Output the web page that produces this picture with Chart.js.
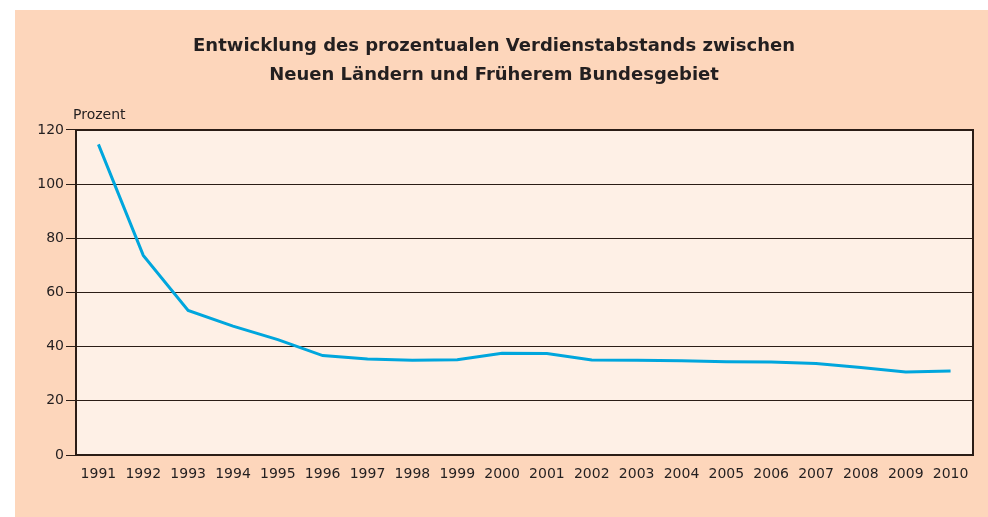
<!DOCTYPE html>
<html>
<head>
<meta charset="utf-8">
<script src="https://cdn.jsdelivr.net/npm/chart.js@4"></script>
<style>
  html, body { margin: 0; padding: 0; background: #ffffff; }
  #wrap { position: absolute; left: 15px; top: 10px; width: 973px; height: 507px; background: #fdd6bb; }
  canvas { display: block; }
</style>
</head>
<body>
<div id="wrap"><canvas id="c" width="973" height="507"></canvas></div>
<script>
const titleLines = ["Entwicklung des prozentualen Verdienstabstands zwischen", "Neuen Ländern und Früherem Bundesgebiet"];
const axisUnit = "Prozent";
const years = ["1991","1992","1993","1994","1995","1996","1997","1998","1999","2000","2001","2002","2003","2004","2005","2006","2007","2008","2009","2010"];
const gapPercent = [114.7, 73.7, 53.4, 47.6, 42.6, 36.7, 35.4, 35.0, 35.2, 37.6, 37.5, 35.1, 35.0, 34.8, 34.4, 34.3, 33.8, 32.3, 30.6, 31.0];
const yTicks = [0, 20, 40, 60, 80, 100, 120];

const ink = '#231f20';
const font = '"DejaVu Sans", Arial, sans-serif';

const framePlugin = {
  id: 'frame',
  beforeDraw(chart) {
    const {ctx, chartArea: a} = chart;
    ctx.save();
    ctx.fillStyle = '#fef0e6';
    ctx.fillRect(a.left, a.top, a.right - a.left, a.bottom - a.top);
    ctx.restore();
  },
  afterDraw(chart) {
    const {ctx, chartArea: a} = chart;
    ctx.save();
    ctx.strokeStyle = '#2b1d16';
    ctx.lineWidth = 2;
    ctx.beginPath();
    ctx.moveTo(a.left, a.top);
    ctx.lineTo(a.right, a.top);
    ctx.lineTo(a.right, a.bottom);
    ctx.stroke();
    ctx.fillStyle = ink;
    ctx.font = '14px ' + font;
    ctx.textAlign = 'left';
    ctx.textBaseline = 'middle';
    ctx.fillText(axisUnit, a.left - 3, a.top - 15);
    ctx.restore();
  }
};

new Chart(document.getElementById('c'), {
  type: 'line',
  data: {
    labels: years,
    datasets: [{
      data: gapPercent,
      borderColor: '#00a6dd',
      borderWidth: 3,
      pointRadius: 0,
      tension: 0,
      fill: false
    }]
  },
  options: {
    responsive: false,
    animation: false,
    layout: { padding: { left: 0, right: 15, top: 0, bottom: 0 } },
    plugins: {
      legend: { display: false },
      tooltip: { enabled: false },
      title: {
        display: true,
        text: titleLines,
        color: ink,
        font: { family: font, size: 18, weight: 'bold', lineHeight: 1.61 },
        padding: { top: 22, bottom: 40 }
      }
    },
    scales: {
      x: {
        offset: true,
        grid: { display: false, drawTicks: false },
        border: { display: true, color: '#2b1d16', width: 2 },
        ticks: { color: ink, font: { family: font, size: 14 }, padding: 11, maxRotation: 0, autoSkip: false },
        afterFit(s) { s.height = 62; }
      },
      y: {
        min: 0,
        max: 120,
        afterBuildTicks(s) { s.ticks = yTicks.map(v => ({ value: v })); },
        grid: { color: '#2b1d16', lineWidth: 1, drawTicks: true, tickLength: 10 },
        border: { display: true, color: '#2b1d16', width: 2 },
        ticks: { color: ink, font: { family: font, size: 14 }, padding: 2 },
        afterFit(s) { s.width = 61; }
      }
    }
  },
  plugins: [framePlugin]
});
</script>
</body>
</html>
